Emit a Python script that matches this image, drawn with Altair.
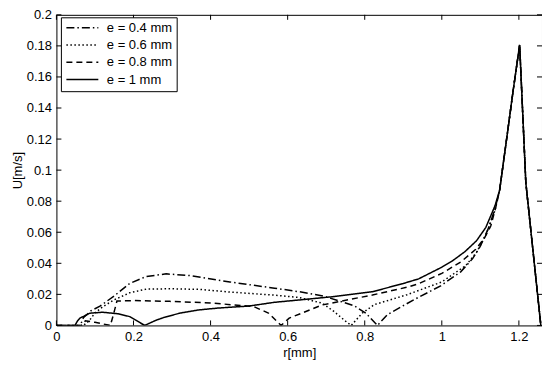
import altair as alt
import pandas as pd

labels = ["e = 0.4 mm", "e = 0.6 mm", "e = 0.8 mm", "e = 1 mm"]

# shared peak segment (all curves coincide)
r_peak = [1.15, 1.172, 1.185, 1.202, 1.218, 1.257]
u_peak = [0.087, 0.127, 0.151, 0.1806, 0.092, 0.0]

r_04 = [0, 0.062, 0.07, 0.09, 0.113, 0.15, 0.19, 0.233, 0.285, 0.35, 0.45, 0.566, 0.63,
        0.695, 0.773, 0.803, 0.833, 0.859, 0.928, 0.997, 1.049, 1.08, 1.1, 1.12, 1.138]
u_04 = [0, 0, 0.005, 0.0095, 0.0124, 0.019, 0.027, 0.0315, 0.0332, 0.032, 0.028, 0.024, 0.0217,
        0.0188, 0.0126, 0.0079, 0.0, 0.007, 0.0166, 0.0255, 0.0345, 0.043, 0.051, 0.062, 0.075]

r_06 = [0, 0.07, 0.085, 0.1, 0.12, 0.15, 0.19, 0.233, 0.3, 0.372, 0.45, 0.566, 0.63, 0.69,
        0.72, 0.751, 0.765, 0.794, 0.825, 0.91, 1.0, 1.062, 1.09, 1.114, 1.138]
u_06 = [0, 0, 0.003, 0.008, 0.012, 0.0165, 0.021, 0.0234, 0.0236, 0.0232, 0.0215, 0.0195, 0.018,
        0.0143, 0.009, 0.0026, 0.0, 0.008, 0.0134, 0.0198, 0.028, 0.0385, 0.047, 0.058, 0.074]

r_08 = [0, 0.065, 0.075, 0.1, 0.14, 0.148, 0.157, 0.2, 0.294, 0.4, 0.512, 0.55, 0.583, 0.604,
        0.69, 0.82, 0.915, 0.941, 1.0, 1.05, 1.088, 1.11, 1.127, 1.14]
u_08 = [0, 0, 0.003, 0.002, 0.0, 0.007, 0.0157, 0.016, 0.0155, 0.0145, 0.0121, 0.008, 0.0, 0.0047,
        0.0132, 0.0196, 0.0249, 0.027, 0.0335, 0.041, 0.049, 0.056, 0.064, 0.076]

r_10 = [0, 0.048, 0.055, 0.061, 0.087, 0.12, 0.16, 0.19, 0.229, 0.26, 0.28, 0.32, 0.37, 0.42,
        0.5, 0.566, 0.63, 0.717, 0.82, 0.9, 0.94, 1.0, 1.03, 1.06, 1.09, 1.114, 1.138]
u_10 = [0, 0, 0.003, 0.0047, 0.0079, 0.0085, 0.0075, 0.0057, 0.0, 0.0035, 0.0052, 0.0079, 0.010,
        0.0112, 0.0125, 0.0149, 0.0164, 0.0185, 0.0217, 0.027, 0.030, 0.0375, 0.042, 0.0475,
        0.0545, 0.063, 0.077]

x_ticks = [0, 0.2, 0.4, 0.6, 0.8, 1.0, 1.2]
y_ticks = [0, 0.02, 0.04, 0.06, 0.08, 0.1, 0.12, 0.14, 0.16, 0.18, 0.2]

dashes = [[8, 3, 1.5, 3], [1.5, 2.5], [6, 4], [1, 0]]

rows = []
for lab, rs, us in zip(labels, [r_04, r_06, r_08, r_10], [u_04, u_06, u_08, u_10]):
    for i, (r, u) in enumerate(zip(rs + r_peak, us + u_peak)):
        rows.append({"r": r, "U": u, "e": lab, "i": i})
df = pd.DataFrame(rows)

W, H = 486.5, 311.2
FONT = "Liberation Sans"

xscale = alt.Scale(domain=[0, 1.26], nice=False, zero=False)
yscale = alt.Scale(domain=[0, 0.2], nice=False)
xaxis = alt.Axis(values=x_ticks, format="~g", labelFlush=False, labelOverlap=False,
                 ticks=False, domain=False, grid=False, labelPadding=5, titlePadding=3)
yaxis = alt.Axis(values=y_ticks, format="~g", labelFlush=False, labelOverlap=False,
                 ticks=False, domain=False, grid=False, labelPadding=5, titlePadding=2)

lines = alt.Chart(df).mark_line(color="black", strokeWidth=1.5, clip=True).encode(
    x=alt.X("r:Q", scale=xscale, title="r[mm]", axis=xaxis),
    y=alt.Y("U:Q", scale=yscale, title="U[m/s]", axis=yaxis),
    strokeDash=alt.StrokeDash("e:N", scale=alt.Scale(domain=labels, range=dashes),
                              legend=alt.Legend(title=None, orient="none", legendX=4.5, legendY=2.5,
                                                symbolType="M-3.2,0H3.2", symbolSize=100,
                                                symbolOffset=11,
                                                symbolStrokeWidth=1.5, symbolStrokeColor="black",
                                                labelFontSize=13, labelFont=FONT, labelColor="black",
                                                strokeColor="black", fillColor="white",
                                                padding=4, rowPadding=3.3, labelOffset=18)),
    order="i:Q",
)

xt = pd.DataFrame({"xt": x_ticks})
yt = pd.DataFrame({"yt": y_ticks})
tick_len = 5
bottom = alt.Chart(xt).mark_rule(color="black").encode(
    x=alt.X("xt:Q", title="r[mm]", axis=xaxis), y=alt.value(H), y2=alt.value(H - tick_len))
top = alt.Chart(xt).mark_rule(color="black").encode(
    x=alt.X("xt:Q", title="r[mm]", axis=xaxis), y=alt.value(0), y2=alt.value(tick_len))
left = alt.Chart(yt).mark_rule(color="black").encode(
    y=alt.Y("yt:Q", title="U[m/s]", axis=yaxis), x=alt.value(0), x2=alt.value(tick_len))
right = alt.Chart(yt).mark_rule(color="black").encode(
    y=alt.Y("yt:Q", title="U[m/s]", axis=yaxis), x=alt.value(W), x2=alt.value(W - tick_len))

chart = alt.layer(lines, bottom, top, left, right).properties(
    width=W, height=H,
    autosize=alt.AutoSizeParams(type="none"),
    padding={"left": 48.5, "top": 6.5, "right": 0, "bottom": 40},
).configure_view(stroke="black", strokeWidth=1).configure_axis(
    labelFont=FONT, titleFont=FONT, labelFontSize=13, titleFontSize=13,
    titleFontWeight="normal", labelColor="black", titleColor="black",
)

chart.save("out.html", embed_options={"renderer": "svg", "actions": False})
